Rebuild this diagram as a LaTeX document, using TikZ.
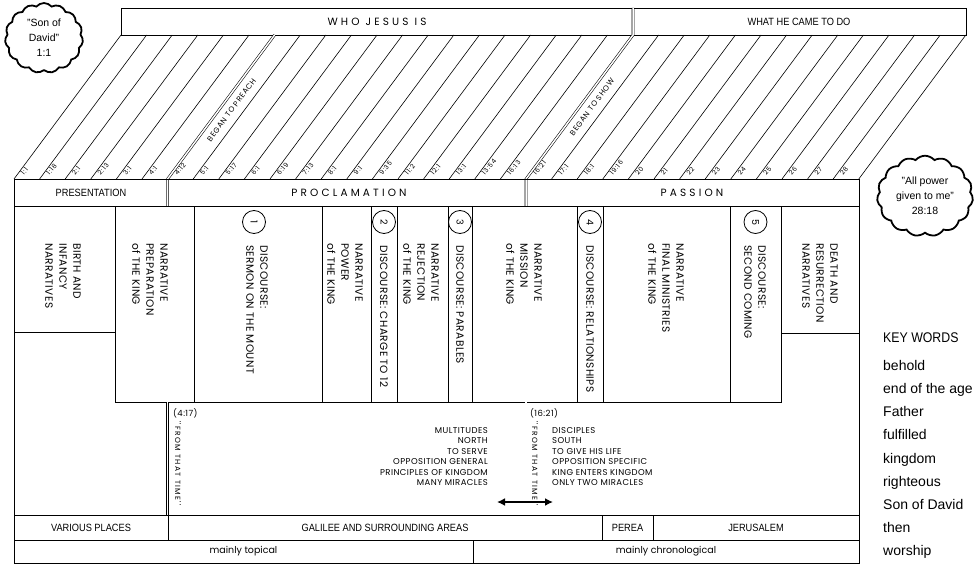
\documentclass[tikz,border=0pt]{standalone}
\usepackage{fontspec}
\setmainfont{Liberation Sans}
\newfontfamily\geofont{Poppins}
\newfontfamily\condfont[FakeStretch=0.88]{Liberation Sans}
\usetikzlibrary{shapes.symbols,arrows.meta}
\tikzset{
  frame/.style={line width=0.8pt},
  dbl/.style={double, double distance=1.5pt, line width=0.55pt},
  coltext/.style={rotate=-90, anchor=west, align=left, inner sep=0pt, font=\geofont\fontsize{10.5}{14}\selectfont\addfontfeature{LetterSpace=4}},
  numcirc/.style={circle, draw, line width=0.8pt, minimum size=23pt, inner sep=0pt, rotate=-90, font=\geofont\fontsize{9.5}{10}\selectfont},
  stripnum/.style={rotate=50, anchor=south west, inner sep=0pt, font=\geofont\fontsize{6.5}{7}\selectfont\addfontfeature{LetterSpace=12}},
  began/.style={rotate=53.4, inner sep=0pt, font=\geofont\fontsize{7.5}{8}\selectfont\addfontfeature{LetterSpace=10}},
  cond/.style={font=\condfont\fontsize{10.5}{12}\selectfont},
  spaced/.style={font=\geofont\fontsize{10.5}{11}\selectfont\addfontfeature{LetterSpace=30}},
  small/.style={inner sep=0pt, font=\geofont\fontsize{8.5}{10.5}\selectfont\addfontfeature{LetterSpace=5}},
  puff/.style={cloud, draw, line width=1.8pt, cloud puffs=15, cloud puff arc=100, aspect=1.1, align=center, inner sep=0pt, font=\fontsize{10.5}{15}\selectfont},
}
\begin{document}
\begin{tikzpicture}[x=1pt,y=-1pt]
\useasboundingbox (0,0) rectangle (975,567);
% top band
\draw[frame] (121,8) rectangle (633,35);
\draw[frame] (633,8) rectangle (966,35);
\node[spaced] at (377,21.5) (who) {WHO JESUS IS};
\node[cond] at (799,21.5) (what) {WHAT HE CAME TO DO};
% chapter strips
\foreach \i in {0,...,33}
  \draw[line width=0.6pt] ({14+25.6*\i},179) -- ++(107,-144);
\foreach \lab [count=\i from 0] in {1:1,1:18,2:1,2:13,3:1,4:1,4:12,5:1,5:17,6:1,6:19,7:13,8:1,9:1,9:35,11:2,12:1,13:1,13:54,16:13,16:21,17:1,18:1,19:16,20,21,22,23,24,25,26,27,28}
  \node[stripnum] at ({24+25.6*\i},176) (s\i) {\lab};
\node[began] at (231.5,110) (preach) {BEGAN TO PREACH};
\node[began] at (592,107) (show) {BEGAN TO SHOW};
\draw[dbl] (274.6,35) -- (167.6,179) -- (167.6,206);
\draw[dbl] (633,8) -- (633,35) -- (526,179) -- (526,206);
% headers
\draw[frame] (14,179) rectangle (859,563);
\draw[frame] (14,206) -- (859,206);
\node[cond] at (91,192.5) (pres) {PRESENTATION};
\node[spaced] at (349,192.5) (procl) {PROCLAMATION};
\node[spaced] at (692,192.5) (pass) {PASSION};
% columns
\draw[frame] (14,332) -- (115,332);
\draw[frame] (115,206) -- (115,402) -- (781,402) -- (781,206);
\draw[frame] (781,333) -- (859,333);
\foreach \x in {194,322,371,397,448,472,577,603,730}
  \draw[frame] (\x,206) -- (\x,402);
\node[coltext] at (63,243) (birth) {BIRTH AND\\INFANCY\\NARRATIVES};
\node[coltext] at (150,243) (prep) {NARRATIVE\\PREPARATION\\of THE KING};
\node[numcirc] at (254,222) (d1) {1};
\node[coltext] at (257,245) (sermon) {DISCOURSE:\\SERMON ON THE MOUNT};
\node[coltext] at (345,243) (power) {NARRATIVE\\POWER\\of THE KING};
\node[numcirc] at (384,222) (d2) {2};
\node[coltext] at (384,245) (charge) {DISCOURSE: CHARGE TO 12};
\node[coltext] at (421,243) (reject) {NARRATIVE\\REJECTION\\of THE KING};
\node[numcirc] at (460,222) (d3) {3};
\node[coltext] at (460,245) (parab) {DISCOURSE: PARABLES};
\node[coltext] at (524,243) (mission) {NARRATIVE\\MISSION\\of THE KING};
\node[numcirc] at (590,222) (d4) {4};
\node[coltext] at (590,245) (relat) {DISCOURSE: RELATIONSHIPS};
\node[coltext] at (666,243) (final) {NARRATIVE\\FINAL MINISTRIES\\of THE KING};
\node[numcirc] at (755.5,222) (d5) {5};
\node[coltext] at (755,245) (second) {DISCOURSE:\\SECOND COMING};
\node[coltext] at (820,243) (death) {DEATH AND\\RESURRECTION\\NARRATIVES};
% from that time
\draw[dbl] (167.6,402) -- (167.6,515);
\draw[dbl] (526,402) -- (526,515);
\node[small, anchor=west] at (173,413) (t417) {(4:17)};
\node[small, rotate=-90, anchor=west, font=\geofont\fontsize{7.5}{9}\selectfont\addfontfeature{LetterSpace=18}] at (178,421) (ftt1) {''FROM THAT TIME''};
\node[small, align=right, anchor=north east] at (488,427) (north) {MULTITUDES\\NORTH\\TO SERVE\\OPPOSITION GENERAL\\PRINCIPLES OF KINGDOM\\MANY MIRACLES};
\node[small, anchor=west] at (530,413) (t1621) {(16:21)};
\node[small, rotate=-90, anchor=west, font=\geofont\fontsize{7.5}{9}\selectfont\addfontfeature{LetterSpace=18}] at (535,421) (ftt2) {''FROM THAT TIME''};
\node[small, align=left, anchor=north west] at (552,427) (south) {DISCIPLES\\SOUTH\\TO GIVE HIS LIFE\\OPPOSITION SPECIFIC\\KING ENTERS KINGDOM\\ONLY TWO MIRACLES};
\coordinate (al) at (497,502);
\coordinate (ar) at (553,502);
\draw[{Latex[length=8pt,width=8pt]}-{Latex[length=8pt,width=8pt]}, line width=1.6pt] (al) -- (ar);
% places and order
\draw[frame] (14,515) -- (859,515);
\draw[frame] (14,540) -- (859,540);
\foreach \x in {168,602,653}
  \draw[frame] (\x,515) -- (\x,540);
\draw[frame] (473,540) -- (473,563);
\node[cond] at (91,527.5) (various) {VARIOUS PLACES};
\node[cond] at (385,527.5) (galilee) {GALILEE AND SURROUNDING AREAS};
\node[cond] at (627.5,527.5) (perea) {PEREA};
\node[cond] at (756,527.5) (jerus) {JERUSALEM};
\node[font=\geofont\fontsize{9.5}{10}\selectfont] at (243.5,551.5) (topical) {mainly topical};
\node[font=\geofont\fontsize{9.5}{10}\selectfont] at (666,551.5) (chrono) {mainly chronological};
% clouds
\node[puff, minimum width=78pt, minimum height=70pt] at (44,38) (david) {''Son of\\David''\\1:1};
\node[puff, minimum width=96pt, minimum height=77pt] at (925,196) (allpower) {''All power\\given to me''\\28:18};
% key words
\node[anchor=west, inner sep=0pt, font=\condfont\fontsize{14}{16}\selectfont] at (883,338) (kw) {KEY WORDS};
\node[anchor=north west, inner sep=0pt, align=left, font=\fontsize{14}{23.2}\selectfont] at (883,360) (kwlist) {behold\\end of the age\\Father\\fulfilled\\kingdom\\righteous\\Son of David\\then\\worship};
\end{tikzpicture}
\end{document}
